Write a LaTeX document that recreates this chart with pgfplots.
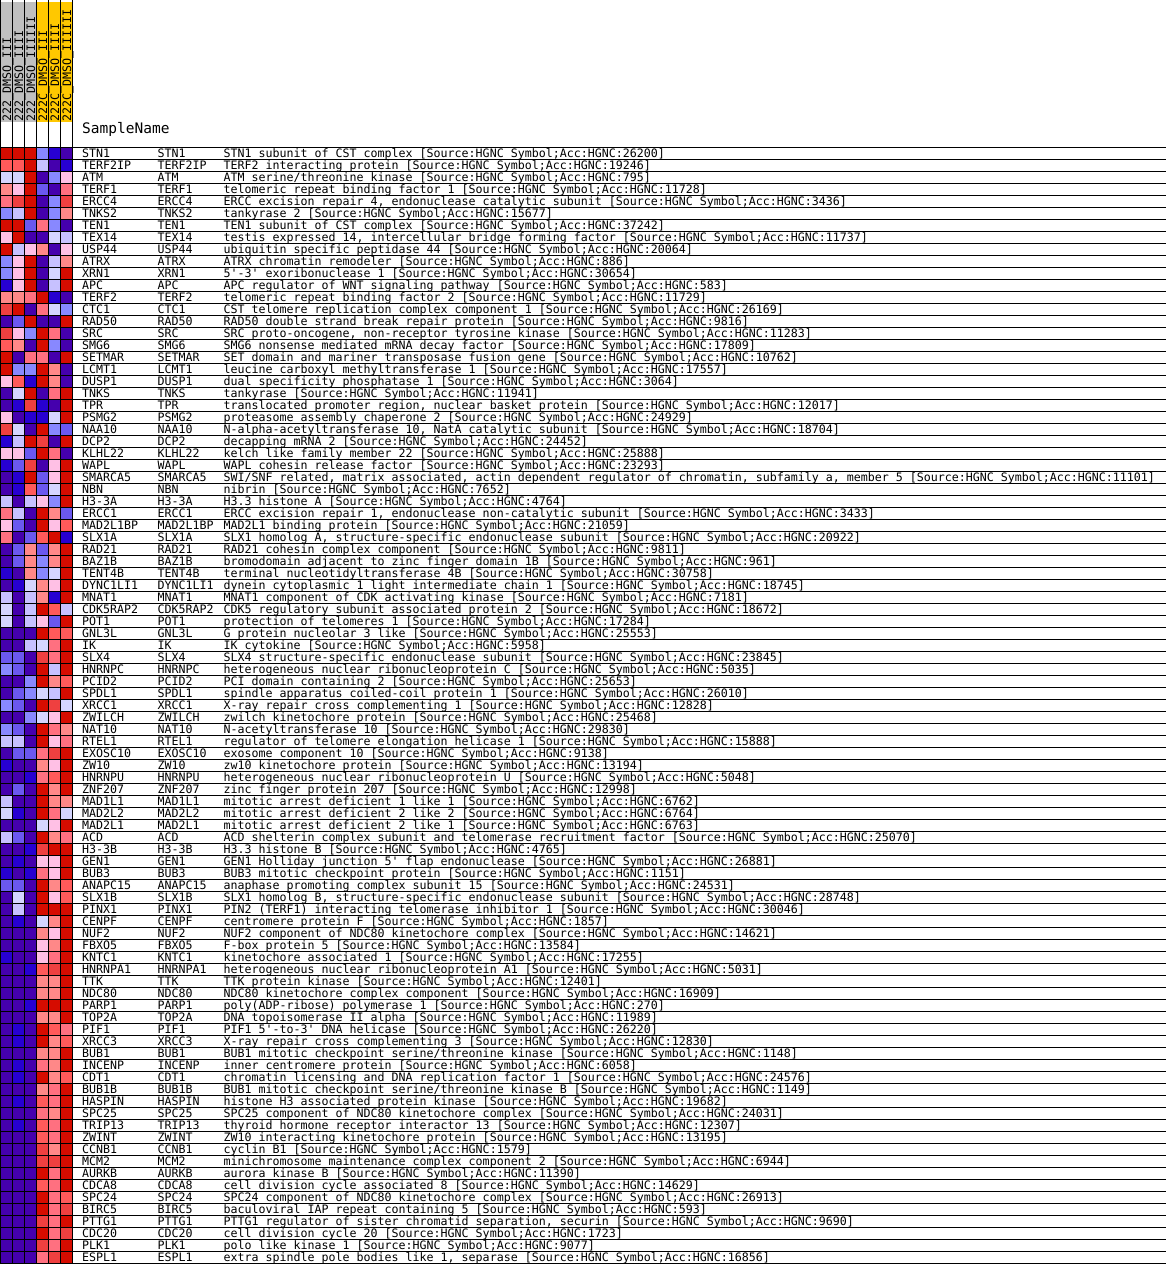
\documentclass[border=0pt]{standalone}
\usepackage{fontspec}
\setmonofont{DejaVu Sans Mono}
\usepackage{pgfplots}
\usepackage{pgfplotstable}
\pgfplotsset{compat=1.18}
\newcommand\rowfont{\ttfamily\fontsize{11.63}{13}\selectfont}
\pgfplotstableread[col sep=&, row sep=\\]{
name&desc&c1&c2&c3&c4&c5&c6\\
STN1&STN1 subunit of CST complex [Source:HGNC Symbol;Acc:HGNC:26200]&11&11&11&3&1&0\\
TERF2IP&TERF2 interacting protein [Source:HGNC Symbol;Acc:HGNC:19246]&9&9&11&4&0&1\\
ATM&ATM serine/threonine kinase [Source:HGNC Symbol;Acc:HGNC:795]&5&5&11&0&3&6\\
TERF1&telomeric repeat binding factor 1 [Source:HGNC Symbol;Acc:HGNC:11728]&7&6&11&2&0&8\\
ERCC4&ERCC excision repair 4, endonuclease catalytic subunit [Source:HGNC Symbol;Acc:HGNC:3436]&8&10&11&0&3&10\\
TNKS2&tankyrase 2 [Source:HGNC Symbol;Acc:HGNC:15677]&3&4&11&0&3&7\\
TEN1&TEN1 subunit of CST complex [Source:HGNC Symbol;Acc:HGNC:37242]&11&11&2&8&3&0\\
TEX14&testis expressed 14, intercellular bridge forming factor [Source:HGNC Symbol;Acc:HGNC:11737]&6&11&0&0&5&4\\
USP44&ubiquitin specific peptidase 44 [Source:HGNC Symbol;Acc:HGNC:20064]&11&4&6&7&0&6\\
ATRX&ATRX chromatin remodeler [Source:HGNC Symbol;Acc:HGNC:886]&3&6&11&0&4&7\\
XRN1&5'-3' exoribonuclease 1 [Source:HGNC Symbol;Acc:HGNC:30654]&3&6&11&0&5&11\\
APC&APC regulator of WNT signaling pathway [Source:HGNC Symbol;Acc:HGNC:583]&1&6&11&0&4&11\\
TERF2&telomeric repeat binding factor 2 [Source:HGNC Symbol;Acc:HGNC:11729]&7&7&8&11&1&0\\
CTC1&CST telomere replication complex component 1 [Source:HGNC Symbol;Acc:HGNC:26169]&10&11&0&8&5&3\\
RAD50&RAD50 double strand break repair protein [Source:HGNC Symbol;Acc:HGNC:9816]&0&2&11&0&0&11\\
SRC&SRC proto-oncogene, non-receptor tyrosine kinase [Source:HGNC Symbol;Acc:HGNC:11283]&10&6&3&11&8&0\\
SMG6&SMG6 nonsense mediated mRNA decay factor [Source:HGNC Symbol;Acc:HGNC:17809]&9&7&0&11&3&0\\
SETMAR&SET domain and mariner transposase fusion gene [Source:HGNC Symbol;Acc:HGNC:10762]&11&0&8&8&0&11\\
LCMT1&leucine carboxyl methyltransferase 1 [Source:HGNC Symbol;Acc:HGNC:17557]&11&3&3&11&7&0\\
DUSP1&dual specificity phosphatase 1 [Source:HGNC Symbol;Acc:HGNC:3064]&6&9&1&11&7&0\\
TNKS&tankyrase [Source:HGNC Symbol;Acc:HGNC:11941]&0&5&11&0&8&11\\
TPR&translocated promoter region, nuclear basket protein [Source:HGNC Symbol;Acc:HGNC:12017]&0&1&10&1&0&11\\
PSMG2&proteasome assembly chaperone 2 [Source:HGNC Symbol;Acc:HGNC:24929]&6&0&1&1&5&11\\
NAA10&N-alpha-acetyltransferase 10, NatA catalytic subunit [Source:HGNC Symbol;Acc:HGNC:18704]&10&5&0&11&3&2\\
DCP2&decapping mRNA 2 [Source:HGNC Symbol;Acc:HGNC:24452]&1&4&11&10&0&11\\
KLHL22&kelch like family member 22 [Source:HGNC Symbol;Acc:HGNC:25888]&6&6&2&11&8&0\\
WAPL&WAPL cohesin release factor [Source:HGNC Symbol;Acc:HGNC:23293]&1&2&10&0&6&11\\
SMARCA5&SWI/SNF related, matrix associated, actin dependent regulator of chromatin, subfamily a, member 5 [Source:HGNC Symbol;Acc:HGNC:11101]&0&1&11&2&6&11\\
NBN&nibrin [Source:HGNC Symbol;Acc:HGNC:7652]&0&1&9&2&5&11\\
H3-3A&H3.3 histone A [Source:HGNC Symbol;Acc:HGNC:4764]&4&0&4&6&3&11\\
ERCC1&ERCC excision repair 1, endonuclease non-catalytic subunit [Source:HGNC Symbol;Acc:HGNC:3433]&8&4&0&11&7&2\\
MAD2L1BP&MAD2L1 binding protein [Source:HGNC Symbol;Acc:HGNC:21059]&6&2&0&11&6&9\\
SLX1A&SLX1 homolog A, structure-specific endonuclease subunit [Source:HGNC Symbol;Acc:HGNC:20922]&8&0&2&9&11&1\\
RAD21&RAD21 cohesin complex component [Source:HGNC Symbol;Acc:HGNC:9811]&0&2&7&2&7&11\\
BAZ1B&bromodomain adjacent to zinc finger domain 1B [Source:HGNC Symbol;Acc:HGNC:961]&0&2&7&3&7&11\\
TENT4B&terminal nucleotidyltransferase 4B [Source:HGNC Symbol;Acc:HGNC:30758]&1&0&7&3&5&11\\
DYNC1LI1&dynein cytoplasmic 1 light intermediate chain 1 [Source:HGNC Symbol;Acc:HGNC:18745]&0&1&5&7&6&11\\
MNAT1&MNAT1 component of CDK activating kinase [Source:HGNC Symbol;Acc:HGNC:7181]&4&0&4&7&1&11\\
CDK5RAP2&CDK5 regulatory subunit associated protein 2 [Source:HGNC Symbol;Acc:HGNC:18672]&5&0&4&11&9&4\\
POT1&protection of telomeres 1 [Source:HGNC Symbol;Acc:HGNC:17284]&5&0&4&6&2&11\\
GNL3L&G protein nucleolar 3 like [Source:HGNC Symbol;Acc:HGNC:25553]&0&0&0&11&9&9\\
IK&IK cytokine [Source:HGNC Symbol;Acc:HGNC:5958]&0&0&4&5&8&11\\
SLX4&SLX4 structure-specific endonuclease subunit [Source:HGNC Symbol;Acc:HGNC:23845]&2&2&0&10&8&11\\
HNRNPC&heterogeneous nuclear ribonucleoprotein C [Source:HGNC Symbol;Acc:HGNC:5035]&3&2&0&11&4&11\\
PCID2&PCI domain containing 2 [Source:HGNC Symbol;Acc:HGNC:25653]&0&0&3&11&7&9\\
SPDL1&spindle apparatus coiled-coil protein 1 [Source:HGNC Symbol;Acc:HGNC:26010]&0&2&3&5&4&11\\
XRCC1&X-ray repair cross complementing 1 [Source:HGNC Symbol;Acc:HGNC:12828]&3&2&0&11&10&5\\
ZWILCH&zwilch kinetochore protein [Source:HGNC Symbol;Acc:HGNC:25468]&0&0&3&5&6&11\\
NAT10&N-acetyltransferase 10 [Source:HGNC Symbol;Acc:HGNC:29830]&3&2&0&11&8&7\\
RTEL1&regulator of telomere elongation helicase 1 [Source:HGNC Symbol;Acc:HGNC:15888]&4&4&0&11&6&8\\
EXOSC10&exosome component 10 [Source:HGNC Symbol;Acc:HGNC:9138]&0&2&2&8&10&11\\
ZW10&zw10 kinetochore protein [Source:HGNC Symbol;Acc:HGNC:13194]&1&0&0&7&6&11\\
HNRNPU&heterogeneous nuclear ribonucleoprotein U [Source:HGNC Symbol;Acc:HGNC:5048]&0&0&1&8&9&11\\
ZNF207&zinc finger protein 207 [Source:HGNC Symbol;Acc:HGNC:12998]&0&2&0&11&7&11\\
MAD1L1&mitotic arrest deficient 1 like 1 [Source:HGNC Symbol;Acc:HGNC:6762]&4&0&0&11&7&7\\
MAD2L2&mitotic arrest deficient 2 like 2 [Source:HGNC Symbol;Acc:HGNC:6764]&5&1&0&11&8&5\\
MAD2L1&mitotic arrest deficient 2 like 1 [Source:HGNC Symbol;Acc:HGNC:6763]&0&0&0&5&6&11\\
ACD&ACD shelterin complex subunit and telomerase recruitment factor [Source:HGNC Symbol;Acc:HGNC:25070]&4&2&0&11&7&8\\
H3-3B&H3.3 histone B [Source:HGNC Symbol;Acc:HGNC:4765]&0&0&1&10&11&11\\
GEN1&GEN1 Holliday junction 5' flap endonuclease [Source:HGNC Symbol;Acc:HGNC:26881]&0&1&0&6&6&11\\
BUB3&BUB3 mitotic checkpoint protein [Source:HGNC Symbol;Acc:HGNC:1151]&1&0&1&8&6&11\\
ANAPC15&anaphase promoting complex subunit 15 [Source:HGNC Symbol;Acc:HGNC:24531]&2&2&0&11&7&9\\
SLX1B&SLX1 homolog B, structure-specific endonuclease subunit [Source:HGNC Symbol;Acc:HGNC:28748]&0&5&0&11&6&9\\
PINX1&PIN2 (TERF1) interacting telomerase inhibitor 1 [Source:HGNC Symbol;Acc:HGNC:30046]&0&4&0&11&11&11\\
CENPF&centromere protein F [Source:HGNC Symbol;Acc:HGNC:1857]&0&1&0&5&7&11\\
NUF2&NUF2 component of NDC80 kinetochore complex [Source:HGNC Symbol;Acc:HGNC:14621]&0&0&0&7&6&11\\
FBXO5&F-box protein 5 [Source:HGNC Symbol;Acc:HGNC:13584]&0&0&0&6&7&11\\
KNTC1&kinetochore associated 1 [Source:HGNC Symbol;Acc:HGNC:17255]&1&0&0&6&8&11\\
HNRNPA1&heterogeneous nuclear ribonucleoprotein A1 [Source:HGNC Symbol;Acc:HGNC:5031]&0&0&1&9&10&11\\
TTK&TTK protein kinase [Source:HGNC Symbol;Acc:HGNC:12401]&0&0&0&7&7&11\\
NDC80&NDC80 kinetochore complex component [Source:HGNC Symbol;Acc:HGNC:16909]&0&0&0&7&7&11\\
PARP1&poly(ADP-ribose) polymerase 1 [Source:HGNC Symbol;Acc:HGNC:270]&0&0&1&11&11&11\\
TOP2A&DNA topoisomerase II alpha [Source:HGNC Symbol;Acc:HGNC:11989]&0&0&0&7&7&11\\
PIF1&PIF1 5'-to-3' DNA helicase [Source:HGNC Symbol;Acc:HGNC:26220]&0&1&0&11&9&8\\
XRCC3&X-ray repair cross complementing 3 [Source:HGNC Symbol;Acc:HGNC:12830]&0&1&0&11&7&9\\
BUB1&BUB1 mitotic checkpoint serine/threonine kinase [Source:HGNC Symbol;Acc:HGNC:1148]&0&0&0&7&7&11\\
INCENP&inner centromere protein [Source:HGNC Symbol;Acc:HGNC:6058]&0&1&0&8&7&11\\
CDT1&chromatin licensing and DNA replication factor 1 [Source:HGNC Symbol;Acc:HGNC:24576]&0&1&0&11&7&9\\
BUB1B&BUB1 mitotic checkpoint serine/threonine kinase B [Source:HGNC Symbol;Acc:HGNC:1149]&0&0&0&7&8&11\\
HASPIN&histone H3 associated protein kinase [Source:HGNC Symbol;Acc:HGNC:19682]&0&1&0&9&8&11\\
SPC25&SPC25 component of NDC80 kinetochore complex [Source:HGNC Symbol;Acc:HGNC:24031]&0&0&0&8&7&11\\
TRIP13&thyroid hormone receptor interactor 13 [Source:HGNC Symbol;Acc:HGNC:12307]&0&1&0&9&8&11\\
ZWINT&ZW10 interacting kinetochore protein [Source:HGNC Symbol;Acc:HGNC:13195]&0&0&0&9&8&11\\
CCNB1&cyclin B1 [Source:HGNC Symbol;Acc:HGNC:1579]&0&0&0&10&7&11\\
MCM2&minichromosome maintenance complex component 2 [Source:HGNC Symbol;Acc:HGNC:6944]&0&0&0&10&10&11\\
AURKB&aurora kinase B [Source:HGNC Symbol;Acc:HGNC:11390]&0&0&0&11&8&11\\
CDCA8&cell division cycle associated 8 [Source:HGNC Symbol;Acc:HGNC:14629]&0&0&0&9&8&11\\
SPC24&SPC24 component of NDC80 kinetochore complex [Source:HGNC Symbol;Acc:HGNC:26913]&0&0&0&11&8&9\\
BIRC5&baculoviral IAP repeat containing 5 [Source:HGNC Symbol;Acc:HGNC:593]&0&0&0&11&8&10\\
PTTG1&PTTG1 regulator of sister chromatid separation, securin [Source:HGNC Symbol;Acc:HGNC:9690]&0&0&0&10&8&11\\
CDC20&cell division cycle 20 [Source:HGNC Symbol;Acc:HGNC:1723]&0&0&0&11&8&10\\
PLK1&polo like kinase 1 [Source:HGNC Symbol;Acc:HGNC:9077]&0&0&0&10&8&11\\
ESPL1&extra spindle pole bodies like 1, separase [Source:HGNC Symbol;Acc:HGNC:16856]&0&0&0&8&10&11\\
}\data

\pgfplotsset{
  cell/.style={scatter, only marks, mark=square*, mark size=6pt,
    point meta=explicit,
    scatter/use mapped color={draw=mapped color, fill=mapped color}},
}

\begin{document}
\begin{tikzpicture}
\begin{axis}[
  at={(0pt,0pt)}, anchor=north west,
  width=1166pt, height=1264pt, scale only axis,
  xmin=0, xmax=1166, ymin=0, ymax=1264, y dir=reverse,
  enlargelimits=false, clip=false,
  axis lines=none,
  colormap={gsea}{rgb255=(69,0,173) rgb255=(39,0,209) rgb255=(107,88,239) rgb255=(136,136,255) rgb255=(199,193,255) rgb255=(213,213,255) rgb255=(255,192,229) rgb255=(255,136,136) rgb255=(255,112,128) rgb255=(255,90,90) rgb255=(239,64,64) rgb255=(214,12,0)},
  point meta min=0, point meta max=11,
]
% header class bars
\fill[fill={rgb,255:red,192;green,192;blue,192}] (axis cs:0,2) rectangle (axis cs:36,122);
\fill[fill={rgb,255:red,255;green,200;blue,0}] (axis cs:36,2) rectangle (axis cs:72,122);
\node[rotate=90, anchor=base west, inner sep=0pt, font=\rowfont] at (axis cs:10.5,122) {222\_DMSO\_III};
\node[rotate=90, anchor=base west, inner sep=0pt, font=\rowfont] at (axis cs:22.5,122) {222\_DMSO\_IIII};
\node[rotate=90, anchor=base west, inner sep=0pt, font=\rowfont] at (axis cs:34.5,122) {222\_DMSO\_IIIIII};
\node[rotate=90, anchor=base west, inner sep=0pt, font=\rowfont] at (axis cs:46.5,122) {222C\_DMSO\_III};
\node[rotate=90, anchor=base west, inner sep=0pt, font=\rowfont] at (axis cs:58.5,122) {222C\_DMSO\_IIII};
\node[rotate=90, anchor=base west, inner sep=0pt, font=\rowfont] at (axis cs:70.5,122) {222C\_DMSO\_IIIIII};
\node[anchor=base west, inner sep=0pt, font=\ttfamily\fontsize{14.5}{16}\selectfont] at (axis cs:81.5,133) {SampleName};

% heatmap cells
\addplot[cell] table[x expr=6,  y expr={153+12*\coordindex}, meta=c1] {\data};
\addplot[cell] table[x expr=18, y expr={153+12*\coordindex}, meta=c2] {\data};
\addplot[cell] table[x expr=30, y expr={153+12*\coordindex}, meta=c3] {\data};
\addplot[cell] table[x expr=42, y expr={153+12*\coordindex}, meta=c4] {\data};
\addplot[cell] table[x expr=54, y expr={153+12*\coordindex}, meta=c5] {\data};
\addplot[cell] table[x expr=66, y expr={153+12*\coordindex}, meta=c6] {\data};
\end{axis}
% grid lines (axis units are 1pt, origin at top left)
\foreach \xx in {0,12,...,72}{
  \draw[black, line width=1pt] (\xx pt,0pt) -- (\xx pt,-1264pt);
}
\foreach \k in {0,...,93}{
  \pgfmathsetmacro\yl{-147-12*\k}
  \draw[black, line width=1pt] (0pt,\yl pt) -- (1166pt,\yl pt);
}
% text columns
\foreach \i in {0,...,92}{
  \pgfplotstablegetelem{\i}{name}\of\data \let\nm\pgfplotsretval
  \pgfplotstablegetelem{\i}{desc}\of\data \let\ds\pgfplotsretval
  \pgfmathsetmacro\yy{-157.8-12*\i}
  \node[anchor=base west, inner sep=0pt, font=\rowfont] at (81.5pt,\yy pt) {\nm};
  \node[anchor=base west, inner sep=0pt, font=\rowfont] at (157pt,\yy pt) {\nm};
  \node[anchor=base west, inner sep=0pt, font=\rowfont] at (223pt,\yy pt) {\ds};
}
\pgfresetboundingbox
\path (-0.5pt,0pt) rectangle (1165.5pt,-1264pt);
\end{tikzpicture}
\end{document}
